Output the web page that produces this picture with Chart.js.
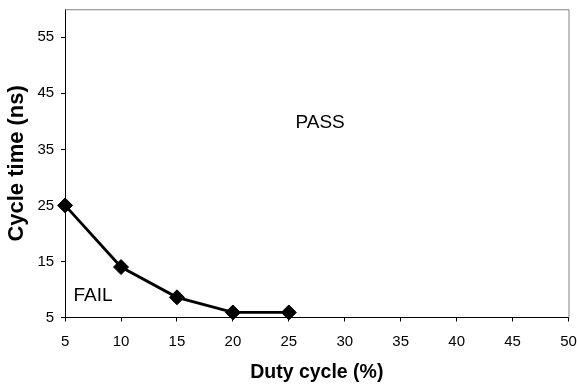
<!DOCTYPE html>
<html>
<head>
<meta charset="utf-8">
<script src="https://cdn.jsdelivr.net/npm/chart.js@4/dist/chart.umd.min.js"></script>
<style>
  html, body { margin: 0; padding: 0; background: #fff; }
  #wrap { width: 577px; height: 390px; }
</style>
</head>
<body>
<div id="wrap"><canvas id="cycleChart" width="577" height="390"></canvas></div>
<script>
// duty cycle (%) vs minimum cycle time (ns)
var dutyCycle = [5, 10, 15, 20, 25];
var cycleTime = [25, 14, 8.6, 5.9, 5.9];
var yTicks = [5, 15, 25, 35, 45, 55];
var regionLabels = ['PASS', 'FAIL'];
var regionX = [27.8, 7.5];
var regionY = [39.8, 8.8];

var fontFamily = '"Liberation Sans", Arial, sans-serif';

// frame on the top/right edges and the region labels
var extras = {
    id: 'extras',
    afterDatasetsDraw: function (chart) {
        var c = chart.ctx, a = chart.chartArea;
        var xs = chart.scales.x, ys = chart.scales.y;
        c.save();
        c.strokeStyle = '#808080';
        c.lineWidth = 1;
        c.beginPath();
        c.moveTo(a.left, a.top + 0.5);
        c.lineTo(a.right + 0.5, a.top + 0.5);
        c.lineTo(a.right + 0.5, a.bottom);
        c.stroke();
        c.fillStyle = '#000';
        c.font = '19px ' + fontFamily;
        c.textAlign = 'center';
        c.textBaseline = 'middle';
        for (var i = 0; i < regionLabels.length; i++) {
            c.fillText(regionLabels[i], xs.getPixelForValue(regionX[i]), ys.getPixelForValue(regionY[i]));
        }
        c.restore();
    }
};

var ctx = document.getElementById('cycleChart').getContext('2d');
var cycleChart = new Chart(ctx, {
    type: 'scatter',
    data: {
        datasets: [{
            data: dutyCycle.map(function (d, i) { return { x: d, y: cycleTime[i] }; }),
            showLine: true,
            borderColor: '#000',
            backgroundColor: '#000',
            borderWidth: 2.8,
            pointStyle: 'rectRot',
            pointRadius: 7.5,
            pointHoverRadius: 7.5,
            pointBorderWidth: 1,
            clip: false
        }]
    },
    options: {
        responsive: false,
        animation: false,
        layout: { padding: { top: 0, right: 0, left: 4, bottom: 8 } },
        plugins: { legend: { display: false }, tooltip: { enabled: false } },
        scales: {
            x: {
                type: 'linear',
                min: 5,
                max: 50,
                // tall line height pushes the labels down without widening the side padding
                ticks: { stepSize: 5, color: '#000', font: { family: fontFamily, size: 15, lineHeight: 41 / 15 }, padding: 0, maxRotation: 0 },
                grid: { drawOnChartArea: false, color: '#000', tickLength: 4 },
                border: { color: '#000', width: 1 },
                title: { display: true, text: 'Duty cycle (%)', color: '#000', font: { family: fontFamily, size: 19.5, weight: 'bold', lineHeight: 1 }, padding: { top: 0, bottom: 0 } }
            },
            y: {
                type: 'linear',
                min: 5,
                max: 60,
                afterBuildTicks: function (scale) {
                    scale.ticks = yTicks.map(function (v) { return { value: v }; });
                },
                ticks: { color: '#000', font: { family: fontFamily, size: 15, lineHeight: 0.3 }, padding: 7 },
                grid: { drawOnChartArea: false, color: '#000', tickLength: 4 },
                border: { color: '#000', width: 1 },
                title: { display: true, text: 'Cycle time (ns)', color: '#000', font: { family: fontFamily, size: 22, weight: 'bold' }, padding: { top: 0, bottom: 0 } }
            }
        }
    },
    plugins: [extras]
});
</script>
</body>
</html>
